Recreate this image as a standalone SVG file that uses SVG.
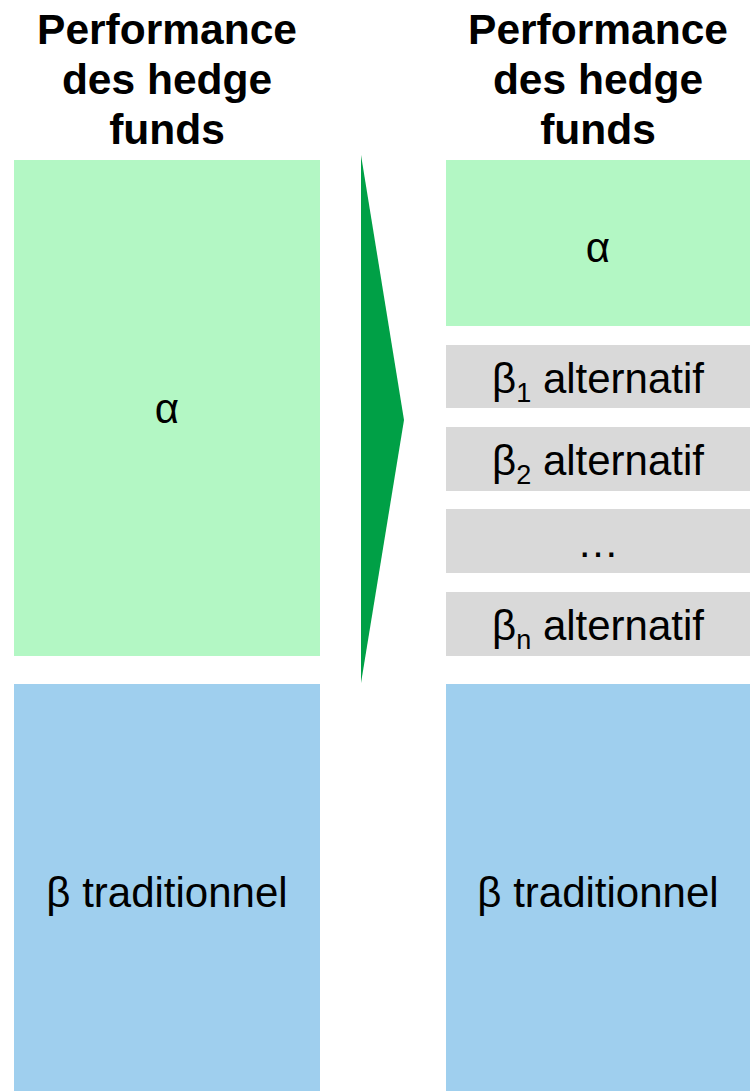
<svg xmlns="http://www.w3.org/2000/svg" width="750" height="1091" viewBox="0 0 750 1091">
<style>
.title{font-family:"Liberation Sans",Arial,sans-serif;font-weight:bold;font-size:42.5px;fill:#000;text-anchor:middle}
.lbl{font-family:"Liberation Sans",Arial,sans-serif;font-size:42px;fill:#000;text-anchor:middle}
.green{fill:#B3F7C4}
.blue{fill:#9FCFEE}
.gray{fill:#D9D9D9}
</style>
<rect width="750" height="1091" fill="#fff"/>
<g id="title-left">
<text class="title" x="167" y="44">Performance</text>
<text class="title" x="167" y="94">des hedge</text>
<text class="title" x="167" y="144">funds</text>
</g>
<g id="title-right">
<text class="title" x="598" y="44">Performance</text>
<text class="title" x="598" y="94">des hedge</text>
<text class="title" x="598" y="144">funds</text>
</g>
<g id="left-alpha"><rect class="green" x="14" y="160" width="306" height="496"/><text class="lbl" x="167" y="423">α</text></g>
<g id="left-beta"><rect class="blue" x="14" y="684" width="306" height="407"/><text class="lbl" x="167" y="907">β traditionnel</text></g>
<g id="right-alpha"><rect class="green" x="446" y="160" width="304" height="166"/><text class="lbl" x="598" y="262">α</text></g>
<g id="beta1"><rect class="gray" x="446" y="345" width="304" height="63"/><text class="lbl" x="598" y="393">β<tspan font-size="27" dy="9">1</tspan><tspan dy="-9"> alternatif</tspan></text></g>
<g id="beta2"><rect class="gray" x="446" y="427" width="304" height="64"/><text class="lbl" x="598" y="475">β<tspan font-size="27" dy="9">2</tspan><tspan dy="-9"> alternatif</tspan></text></g>
<g id="dots"><rect class="gray" x="446" y="509" width="304" height="64"/><text class="lbl" x="598" y="557">…</text></g>
<g id="betan"><rect class="gray" x="446" y="592" width="304" height="64"/><text class="lbl" x="598" y="640">β<tspan font-size="27" dy="9">n</tspan><tspan dy="-9"> alternatif</tspan></text></g>
<g id="right-beta"><rect class="blue" x="446" y="684" width="304" height="407"/><text class="lbl" x="598" y="907">β traditionnel</text></g>
<g id="connectors"><polygon points="361,155 404,420 361,683" fill="#00A046"/></g>
</svg>
